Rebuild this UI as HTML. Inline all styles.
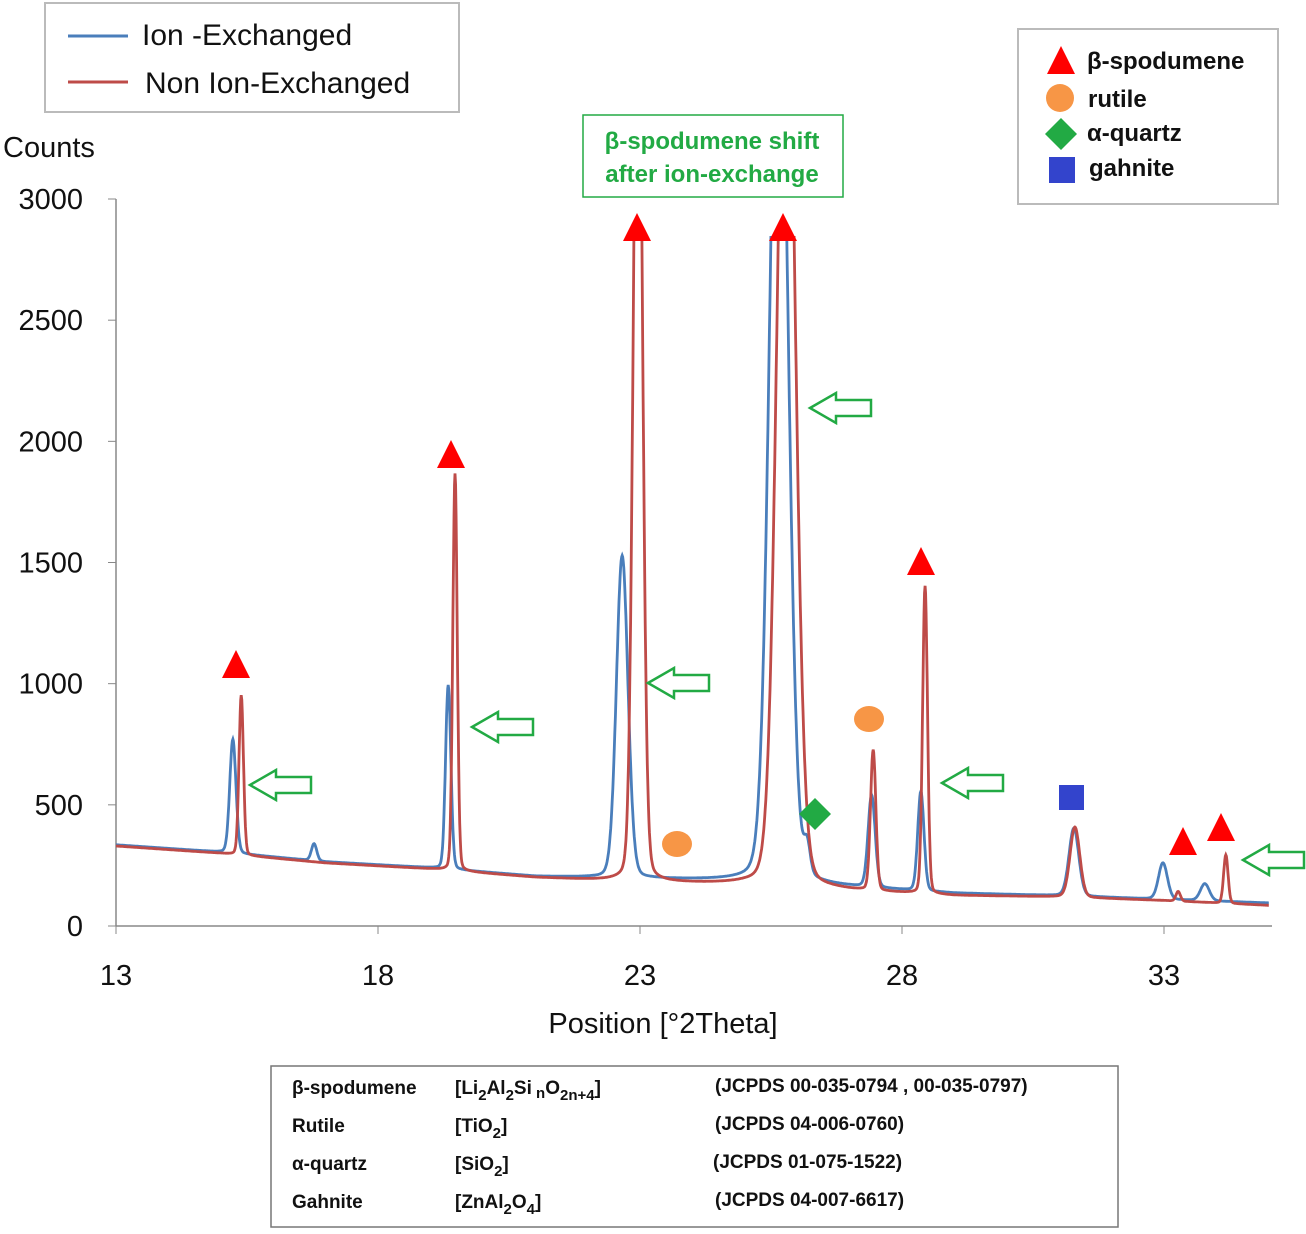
<!DOCTYPE html>
<html><head><meta charset="utf-8"><style>
body{margin:0;background:#fff;width:1306px;height:1229px;overflow:hidden;font-family:"Liberation Sans",sans-serif}
svg text{font-family:"Liberation Sans","DejaVu Sans",sans-serif}
</style></head><body>
<svg id="chart" width="1306" height="1229" xmlns="http://www.w3.org/2000/svg">
<defs><clipPath id="pc"><rect x="116" y="236" width="1160" height="700"/></clipPath></defs>
<g id="axes"></g>
<g id="series" clip-path="url(#pc)"></g>
<g id="marks"></g>
<text x="3" y="157" font-size="29" fill="#111">Counts</text>
<text x="663" y="1033" font-size="29" fill="#111" text-anchor="middle">Position [°2Theta]</text>
<g>
<rect x="45" y="3" width="414" height="109" fill="#fff" stroke="#bbb" stroke-width="2"/>
<line x1="68" y1="36" x2="128" y2="36" stroke="#4a7ebb" stroke-width="3"/>
<text x="142" y="45" font-size="30" fill="#111">Ion -Exchanged</text>
<line x1="68" y1="82" x2="128" y2="82" stroke="#be4b48" stroke-width="3"/>
<text x="145" y="93" font-size="30" fill="#111">Non Ion-Exchanged</text>
</g>
<g font-weight="bold" font-size="24" fill="#111">
<rect x="1018" y="29" width="260" height="175" fill="#fff" stroke="#bbb" stroke-width="2"/>
<polygon points="1061,46 1047,74 1075,74" fill="#f00"/>
<text x="1087" y="69">β-spodumene</text>
<circle cx="1060" cy="98" r="14" fill="#f79646"/>
<text x="1088" y="107">rutile</text>
<polygon points="1061,118 1077,134 1061,150 1045,134" fill="#22aa44"/>
<text x="1087" y="141">α-quartz</text>
<rect x="1049" y="157" width="26" height="26" fill="#3344cc"/>
<text x="1089" y="176">gahnite</text>
</g>
<g>
<rect x="583" y="115" width="260" height="82" fill="#fff" stroke="#22aa44" stroke-width="1.5"/>
<text x="712" y="149" font-size="24" font-weight="bold" fill="#22aa44" text-anchor="middle">β-spodumene  shift</text>
<text x="712" y="182" font-size="24" font-weight="bold" fill="#22aa44" text-anchor="middle">after ion-exchange</text>
</g>
<g id="arrows"></g>
<g font-weight="bold" font-size="19" fill="#111">
<rect x="271" y="1066" width="847" height="161" fill="#fff" stroke="#777" stroke-width="1.5"/>
<text x="292" y="1094">β-spodumene</text><text x="455" y="1094">[Li<tspan font-size="15" dy="6">2</tspan><tspan dy="-6">Al</tspan><tspan font-size="15" dy="6">2</tspan><tspan dy="-6">Si</tspan><tspan font-size="15" dy="4"> n</tspan><tspan dy="-4">O</tspan><tspan font-size="15" dy="6">2n+4</tspan><tspan dy="-6">]</tspan></text><text x="715" y="1092">(JCPDS 00-035-0794 , 00-035-0797)</text>
<text x="292" y="1132">Rutile</text><text x="455" y="1132">[TiO<tspan font-size="15" dy="6">2</tspan><tspan dy="-6">]</tspan></text><text x="715" y="1130">(JCPDS 04-006-0760)</text>
<text x="292" y="1170">α-quartz</text><text x="455" y="1170">[SiO<tspan font-size="15" dy="6">2</tspan><tspan dy="-6">]</tspan></text><text x="713" y="1168">(JCPDS 01-075-1522)</text>
<text x="292" y="1208">Gahnite</text><text x="455" y="1208">[ZnAl<tspan font-size="15" dy="6">2</tspan><tspan dy="-6">O</tspan><tspan font-size="15" dy="6">4</tspan><tspan dy="-6">]</tspan></text><text x="715" y="1206">(JCPDS 04-007-6617)</text>
</g>
</svg>
<script>
const xTicks=[13,18,23,28,33];
const yTicks=[0,500,1000,1500,2000,2500,3000];
const baseX=[13,15,17,19,21,23,25,27,29,31,33,35];
const baseBlue=[335,305,265,240,205,195,185,160,135,125,110,95];
const baseRed=[330,300,260,235,200,180,170,145,125,120,105,85];
const blueCenters=[15.23,16.78,19.34,22.66,25.65,26.19,27.42,28.36,31.28,32.98,33.78];
const blueHeights=[470,70,760,1330,4000,120,380,410,280,150,70];
const blueWidths=[0.07,0.06,0.06,0.13,0.2,0.07,0.08,0.07,0.11,0.1,0.1];
const redCenters=[15.39,19.47,22.96,25.79,27.45,28.44,31.3,33.27,34.18];
const redHeights=[660,1640,4000,4000,580,1270,290,40,200];
const redWidths=[0.05,0.05,0.1,0.2,0.06,0.055,0.11,0.05,0.05];
const NS='http://www.w3.org/2000/svg';
const X=v=>116+(v-13)*52.4, Y=c=>926-c*0.24233;
function mk(t,a,p){const e=document.createElementNS(NS,t);for(const k in a)e.setAttribute(k,a[k]);p.appendChild(e);return e;}
const axes=document.getElementById('axes');
let l=mk('line',{x1:116,y1:199,x2:116,y2:926,stroke:'#888','stroke-width':1.5},axes);


l=mk('line',{x1:116,y1:926,x2:1272,y2:926,stroke:'#888','stroke-width':1.5},axes);


yTicks.forEach(v=>{mk('line',{x1:108,x2:116,y1:Y(v),y2:Y(v),stroke:'#888'},axes);
const t=mk('text',{x:83,y:Y(v)+10,'font-size':29,'text-anchor':'end',fill:'#111'},axes);t.textContent=v;

});
xTicks.forEach(v=>{mk('line',{x1:X(v),x2:X(v),y1:926,y2:934,stroke:'#888'},axes);
const t=mk('text',{x:X(v),y:985,'font-size':29,'text-anchor':'middle',fill:'#111'},axes);t.textContent=v;

});
function base(x,b){for(let i=0;i<baseX.length-1;i++)if(x<=baseX[i+1]){const f=(x-baseX[i])/(baseX[i+1]-baseX[i]);return b[i]+f*(b[i+1]-b[i]);}return b[b.length-1];}
function val(x,b,C,H,W){let s=base(x,b);for(let i=0;i<C.length;i++){const d=(x-C[i])/W[i];s+=H[i]*(0.12/(1+d*d)+0.88*Math.exp(-0.693*d*d));}return Math.min(s,3500);}
const sg=document.getElementById('series');
function draw(b,C,H,W,col,name){let d='';for(let x=13;x<=35.01;x+=0.01){d+=(d?'L':'M')+X(x).toFixed(1)+','+Y(val(x,b,C,H,W)).toFixed(1);}
const p=mk('path',{d:d,fill:'none',stroke:col,'stroke-width':2.8},sg);

}
draw(baseBlue,blueCenters,blueHeights,blueWidths,'#4a7ebb','ion-exchanged-line');
draw(baseRed,redCenters,redHeights,redWidths,'#be4b48','non-ion-exchanged-line');
const mg=document.getElementById('marks');
[[236,665],[451,455],[637,228],[783,228],[921,562],[1183,842],[1221,828]].forEach(([x,y])=>{const p=mk('polygon',{points:`${x},${y-15} ${x-14},${y+13} ${x+14},${y+13}`,fill:'#f00'},mg);

});
[[677,844],[869,719]].forEach(([x,y])=>{const c=mk('ellipse',{cx:x,cy:y,rx:15,ry:13,fill:'#f79646'},mg);

});
let q=mk('polygon',{points:'815,798 831,814 815,830 799,814',fill:'#22aa44'},mg);


q=mk('rect',{x:1059,y:785,width:25,height:25,fill:'#3344cc'},mg);


const ag=document.getElementById('arrows');
[[250,785],[472,727],[648,683],[810,408],[942,783],[1243,860]].forEach(([x,y])=>{const p=mk('polygon',{points:`${x},${y} ${x+26},${y-15} ${x+26},${y-8} ${x+61},${y-8} ${x+61},${y+8} ${x+26},${y+8} ${x+26},${y+15}`,fill:'#fff',stroke:'#22aa44','stroke-width':2.5},ag);

});
</script>
</body></html>
